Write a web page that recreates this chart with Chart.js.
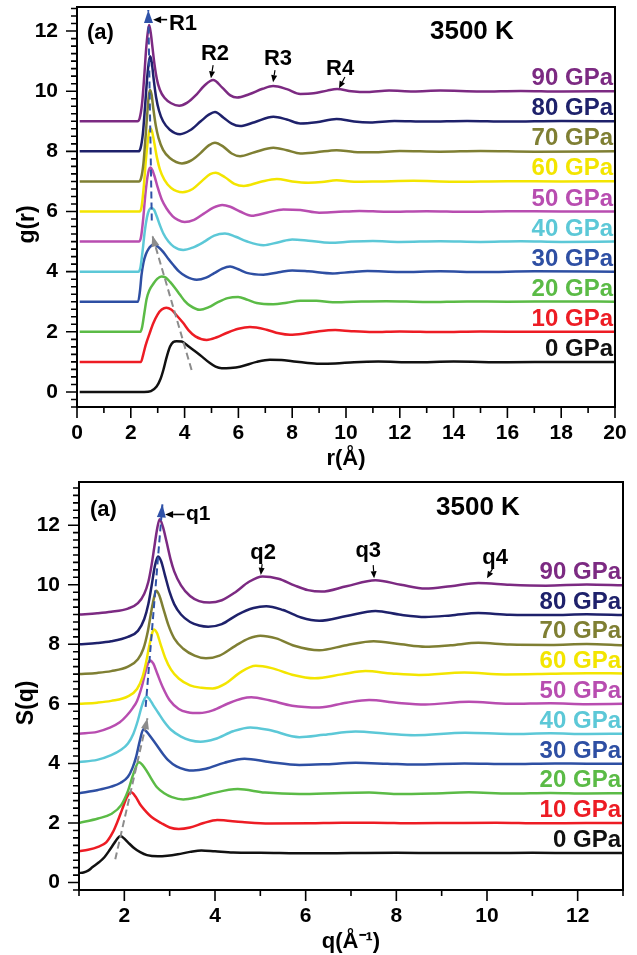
<!DOCTYPE html>
<html>
<head>
<meta charset="utf-8">
<script src="https://cdn.jsdelivr.net/npm/chart.js@4.4.1/dist/chart.umd.min.js"></script>
<style>
  body { margin: 0; background: #fff; }
  #wrap { position: relative; width: 637px; height: 955px; }
  canvas { position: absolute; left: 0; }
  #grChart { top: 0; }
  #sqChart { top: 475px; }
</style>
</head>
<body>
<div id="wrap">
  <canvas id="grChart" width="637" height="475"></canvas>
  <canvas id="sqChart" width="637" height="480"></canvas>
</div>
<script>
const pressures = ['0 GPa', '10 GPa', '20 GPa', '30 GPa', '40 GPa', '50 GPa', '60 GPa', '70 GPa', '80 GPa', '90 GPa'];
const lineColors = ['#111111', '#ed1c24', '#5bbb46', '#2e4fa3', '#5cc8d7', '#b84db0', '#f3e500', '#7f7f33', '#1e216b', '#7c2a82'];

// g(r) at 3500 K, each pressure shifted up by 1: [r (Å), g]
const gr0 = [[0.1, 0.0], [2.5, 0.0], [2.75, 0.03], [2.96, 0.18], [3.1, 0.42], [3.21, 0.73], [3.33, 1.15], [3.46, 1.51], [3.58, 1.66], [3.7, 1.69], [3.89, 1.68], [4.0, 1.62], [4.14, 1.52], [4.35, 1.38], [4.57, 1.23], [4.94, 0.96], [5.15, 0.84], [5.38, 0.79], [5.7, 0.8], [6.06, 0.84], [6.68, 1.0], [7.17, 1.07], [7.6, 1.06], [8.0, 1.02], [8.5, 0.97], [9.0, 0.94], [9.6, 0.95], [10.3, 0.99], [11.2, 1.01], [12.5, 0.99], [14, 1.01], [16, 0.99], [18, 1.0], [20, 1.0]];
const gr10 = [[0.1, 1.0], [2.38, 1.0], [2.45, 1.2], [2.55, 1.55], [2.7, 1.95], [2.84, 2.29], [3.0, 2.58], [3.15, 2.74], [3.32, 2.8], [3.5, 2.74], [3.7, 2.55], [3.95, 2.29], [4.15, 2.05], [4.4, 1.85], [4.82, 1.73], [5.2, 1.82], [5.56, 1.96], [6.0, 2.1], [6.43, 2.16], [7.05, 2.07], [7.5, 1.95], [7.92, 1.9], [8.5, 1.95], [9.0, 2.02], [9.6, 2.06], [10.2, 2.02], [11, 1.99], [12, 2.01], [13.5, 1.99], [15, 2.01], [17, 2.0], [20, 2.0]];
const gr20 = [[0.1, 2.0], [2.36, 2.0], [2.42, 2.15], [2.5, 2.6], [2.59, 3.1], [2.7, 3.4], [2.84, 3.6], [2.98, 3.76], [3.14, 3.84], [3.3, 3.8], [3.46, 3.66], [3.65, 3.45], [3.83, 3.23], [4.0, 3.03], [4.2, 2.87], [4.57, 2.73], [4.9, 2.82], [5.19, 2.96], [5.6, 3.12], [5.99, 3.16], [6.35, 3.06], [6.68, 2.96], [7.3, 2.92], [7.8, 2.97], [8.3, 3.03], [8.9, 3.03], [9.5, 2.98], [10.3, 3.0], [11.5, 3.02], [13, 2.99], [14.5, 3.01], [16, 3.0], [18, 3.01], [20, 3.0]];
const gr30 = [[0.1, 3.0], [2.27, 3.0], [2.34, 3.35], [2.4, 3.9], [2.47, 4.3], [2.56, 4.58], [2.66, 4.76], [2.76, 4.86], [2.86, 4.9], [3.0, 4.84], [3.21, 4.65], [3.4, 4.42], [3.58, 4.22], [3.8, 4.0], [4.05, 3.84], [4.45, 3.73], [4.8, 3.8], [5.1, 3.95], [5.4, 4.1], [5.69, 4.17], [6.0, 4.08], [6.31, 3.96], [6.93, 3.9], [7.5, 3.98], [8.0, 4.04], [8.6, 4.01], [9.5, 3.94], [10.2, 3.99], [10.8, 4.02], [12, 3.99], [13.5, 4.01], [15, 3.99], [17, 4.01], [20, 4.0]];
const gr40 = [[0.1, 4.0], [2.28, 4.0], [2.36, 4.15], [2.44, 4.7], [2.52, 5.35], [2.6, 5.8], [2.68, 6.05], [2.77, 6.12], [2.87, 6.05], [2.96, 5.85], [3.08, 5.55], [3.21, 5.27], [3.4, 5.0], [3.6, 4.83], [3.95, 4.72], [4.3, 4.8], [4.7, 4.98], [5.1, 5.2], [5.5, 5.27], [5.9, 5.16], [6.3, 5.01], [6.93, 4.88], [7.5, 4.98], [8.0, 5.07], [8.6, 5.03], [9.4, 4.96], [10.2, 5.0], [11, 5.02], [12, 4.99], [13.5, 5.01], [15, 4.99], [16.5, 5.01], [18, 4.99], [20, 5.0]];
const gr50 = [[0.1, 5.0], [2.3, 5.0], [2.38, 5.15], [2.46, 5.75], [2.54, 6.55], [2.62, 7.15], [2.68, 7.4], [2.73, 7.46], [2.8, 7.38], [2.9, 7.12], [3.0, 6.8], [3.15, 6.4], [3.33, 6.1], [3.55, 5.85], [3.75, 5.72], [4.0, 5.65], [4.35, 5.72], [4.7, 5.92], [5.07, 6.13], [5.4, 6.22], [5.7, 6.16], [6.06, 6.0], [6.49, 5.86], [7.05, 5.96], [7.67, 6.07], [8.3, 6.05], [9.0, 5.96], [9.6, 5.98], [10.5, 6.02], [11.5, 5.99], [13, 6.01], [14.5, 5.99], [16, 6.01], [18, 6.0], [20, 6.0]];
const gr60 = [[0.1, 6.0], [2.33, 6.0], [2.4, 6.15], [2.48, 6.8], [2.56, 7.7], [2.64, 8.4], [2.69, 8.68], [2.74, 8.76], [2.8, 8.62], [2.88, 8.25], [2.97, 7.8], [3.08, 7.4], [3.25, 7.05], [3.5, 6.78], [3.93, 6.64], [4.3, 6.75], [4.65, 7.02], [4.95, 7.24], [5.15, 7.29], [5.5, 7.14], [5.85, 6.92], [6.2, 6.85], [6.8, 6.98], [7.43, 7.08], [8.0, 7.0], [8.6, 6.96], [9.1, 6.98], [9.65, 7.04], [10.3, 6.99], [11.2, 7.0], [12.5, 7.02], [14, 6.99], [16, 7.01], [18, 7.0], [20, 7.01]];
const gr70 = [[0.1, 7.0], [2.3, 7.0], [2.38, 7.1], [2.47, 7.6], [2.55, 8.5], [2.62, 9.35], [2.67, 9.85], [2.71, 10.04], [2.77, 9.9], [2.84, 9.4], [2.93, 8.85], [3.03, 8.45], [3.2, 8.05], [3.45, 7.78], [3.9, 7.6], [4.25, 7.7], [4.6, 7.95], [4.9, 8.2], [5.13, 8.29], [5.45, 8.15], [5.75, 7.93], [6.06, 7.84], [6.6, 7.97], [7.3, 8.12], [7.8, 8.04], [8.3, 7.93], [8.9, 7.97], [9.65, 8.04], [10.3, 7.98], [11, 7.97], [12, 8.01], [13.5, 7.99], [15, 8.01], [17, 7.99], [20, 8.0]];
const gr80 = [[0.1, 8.0], [2.28, 8.0], [2.36, 8.1], [2.45, 8.6], [2.53, 9.5], [2.6, 10.35], [2.66, 10.9], [2.72, 11.16], [2.78, 10.95], [2.85, 10.4], [2.94, 9.8], [3.05, 9.35], [3.2, 9.0], [3.45, 8.72], [3.83, 8.57], [4.2, 8.7], [4.6, 9.0], [4.9, 9.22], [5.13, 9.31], [5.45, 9.12], [5.75, 8.92], [6.06, 8.84], [6.6, 8.97], [7.3, 9.15], [7.8, 9.06], [8.3, 8.93], [8.9, 8.97], [9.65, 9.08], [10.3, 8.99], [10.9, 8.96], [11.8, 9.01], [13, 8.99], [14.5, 9.01], [16, 8.99], [18, 9.01], [20, 9.0]];
const gr90 = [[0.1, 9.0], [2.25, 9.0], [2.33, 9.1], [2.42, 9.6], [2.5, 10.5], [2.57, 11.4], [2.63, 11.95], [2.68, 12.2], [2.74, 11.95], [2.8, 11.5], [2.88, 10.9], [2.97, 10.4], [3.08, 10.05], [3.25, 9.78], [3.5, 9.6], [3.8, 9.52], [4.1, 9.62], [4.4, 9.85], [4.75, 10.2], [5.06, 10.37], [5.4, 10.12], [5.7, 9.86], [5.95, 9.79], [6.4, 9.9], [6.9, 10.08], [7.29, 10.17], [7.8, 10.07], [8.3, 9.91], [8.8, 9.93], [9.3, 10.02], [9.67, 10.07], [10.2, 10.0], [10.8, 9.97], [11.6, 10.02], [12.5, 9.99], [13.5, 10.02], [15, 9.99], [16.5, 10.01], [18, 9.99], [20, 10.0]];

// S(q) at 3500 K, same offsets: [q (1/Å), S]
const sq0 = [[1.0, 0.32], [1.1, 0.34], [1.2, 0.4], [1.3, 0.52], [1.44, 0.68], [1.56, 0.85], [1.68, 1.1], [1.78, 1.33], [1.86, 1.5], [1.92, 1.56], [1.98, 1.5], [2.08, 1.35], [2.22, 1.15], [2.35, 1.02], [2.5, 0.92], [2.74, 0.88], [2.95, 0.9], [3.18, 0.95], [3.45, 1.03], [3.7, 1.08], [4.0, 1.05], [4.4, 1.01], [5.0, 1.0], [6.1, 0.98], [7.0, 0.99], [8.0, 1.0], [9.0, 0.99], [10, 0.99], [11, 1.0], [12, 0.99], [13, 0.99]];
const sq10 = [[1.0, 1.05], [1.2, 1.1], [1.42, 1.2], [1.6, 1.35], [1.75, 1.7], [1.85, 2.05], [1.95, 2.45], [2.06, 2.88], [2.15, 3.03], [2.25, 2.88], [2.35, 2.62], [2.44, 2.45], [2.6, 2.2], [2.81, 2.0], [3.0, 1.85], [3.2, 1.8], [3.45, 1.85], [3.75, 2.0], [4.05, 2.1], [4.6, 2.03], [5.2, 1.98], [6.1, 1.99], [6.8, 2.01], [7.5, 2.01], [8.4, 1.99], [9.2, 2.0], [10.2, 2.01], [11.2, 1.99], [12.2, 2.0], [13, 2.0]];
const sq20 = [[1.0, 2.0], [1.42, 2.15], [1.71, 2.3], [1.93, 2.6], [2.08, 3.08], [2.2, 3.65], [2.32, 4.04], [2.45, 3.85], [2.59, 3.5], [2.72, 3.2], [2.88, 3.0], [3.05, 2.87], [3.3, 2.79], [3.6, 2.86], [3.9, 2.98], [4.5, 3.14], [5.1, 3.02], [5.86, 2.97], [6.8, 3.01], [7.4, 3.02], [8.0, 2.97], [8.8, 2.99], [9.6, 3.03], [10.5, 2.99], [11.4, 3.01], [12.2, 2.99], [13, 3.0]];
const sq30 = [[1.0, 3.0], [1.42, 3.11], [1.71, 3.22], [1.92, 3.35], [2.08, 3.55], [2.18, 3.85], [2.26, 4.22], [2.34, 4.75], [2.42, 5.15], [2.5, 5.05], [2.6, 4.85], [2.72, 4.6], [2.86, 4.3], [2.96, 4.12], [3.15, 3.9], [3.35, 3.79], [3.52, 3.76], [3.8, 3.82], [4.2, 4.02], [4.65, 4.16], [5.2, 4.05], [5.86, 3.95], [6.4, 3.97], [7.1, 4.02], [7.8, 3.99], [8.4, 3.96], [9.5, 4.0], [10.5, 3.98], [11.5, 4.0], [12.2, 3.99], [13, 3.99]];
const sq40 = [[1.0, 4.05], [1.4, 4.12], [1.71, 4.28], [1.92, 4.45], [2.08, 4.67], [2.2, 5.0], [2.3, 5.45], [2.38, 5.9], [2.44, 6.15], [2.49, 6.25], [2.56, 6.15], [2.64, 5.95], [2.74, 5.72], [2.88, 5.4], [3.03, 5.13], [3.25, 4.9], [3.45, 4.78], [3.68, 4.73], [4.0, 4.82], [4.4, 5.08], [4.78, 5.21], [5.2, 5.12], [5.86, 4.88], [6.4, 4.96], [7.1, 5.07], [7.8, 5.0], [8.4, 4.95], [9.52, 5.03], [10.5, 4.99], [11.4, 5.01], [12.2, 4.99], [13, 5.0]];
const sq50 = [[1.0, 5.0], [1.4, 5.06], [1.68, 5.2], [1.9, 5.38], [2.05, 5.6], [2.18, 5.85], [2.28, 6.1], [2.38, 6.55], [2.47, 7.1], [2.53, 7.38], [2.57, 7.46], [2.64, 7.35], [2.73, 7.0], [2.85, 6.55], [3.0, 6.12], [3.2, 5.83], [3.4, 5.72], [3.66, 5.69], [3.95, 5.78], [4.3, 6.02], [4.6, 6.18], [4.8, 6.22], [5.2, 6.12], [5.7, 5.94], [6.3, 5.88], [6.9, 6.04], [7.4, 6.13], [8.0, 6.04], [8.64, 5.98], [9.6, 6.07], [10.5, 6.0], [11.4, 6.02], [12.2, 5.99], [13, 6.0]];
const sq60 = [[1.0, 6.0], [1.4, 6.04], [1.71, 6.1], [2.08, 6.25], [2.28, 6.5], [2.4, 6.9], [2.48, 7.4], [2.55, 7.95], [2.61, 8.35], [2.65, 8.5], [2.72, 8.38], [2.8, 8.0], [2.9, 7.55], [3.03, 7.15], [3.2, 6.85], [3.45, 6.62], [3.7, 6.54], [3.95, 6.52], [4.25, 6.7], [4.55, 7.05], [4.9, 7.28], [5.25, 7.2], [5.7, 6.98], [6.2, 6.86], [6.8, 6.99], [7.32, 7.1], [7.9, 7.02], [8.5, 6.97], [9.5, 7.05], [10.4, 6.99], [11.4, 7.01], [12.2, 7.03], [13, 7.02]];
const sq70 = [[1.0, 7.0], [1.4, 7.04], [1.71, 7.1], [2.08, 7.25], [2.3, 7.5], [2.42, 7.85], [2.52, 8.45], [2.6, 9.15], [2.66, 9.6], [2.7, 9.8], [2.77, 9.65], [2.86, 9.2], [2.97, 8.65], [3.1, 8.2], [3.3, 7.85], [3.55, 7.62], [3.8, 7.53], [4.1, 7.62], [4.45, 7.95], [4.75, 8.2], [5.0, 8.29], [5.35, 8.2], [5.75, 7.95], [6.3, 7.8], [6.9, 7.97], [7.5, 8.1], [8.1, 8.0], [8.64, 7.92], [9.2, 7.97], [9.81, 8.05], [10.5, 7.99], [11.4, 7.98], [12.2, 8.01], [13, 7.97]];
const sq80 = [[1.0, 8.0], [1.4, 8.04], [1.71, 8.1], [2.08, 8.25], [2.3, 8.45], [2.44, 8.85], [2.53, 9.35], [2.6, 9.95], [2.67, 10.6], [2.74, 10.95], [2.81, 10.8], [2.9, 10.3], [3.0, 9.75], [3.1, 9.35], [3.25, 9.0], [3.45, 8.75], [3.65, 8.63], [3.85, 8.59], [4.15, 8.68], [4.5, 9.0], [4.85, 9.22], [5.13, 9.28], [5.5, 9.15], [5.9, 8.9], [6.3, 8.79], [6.9, 8.95], [7.54, 9.12], [8.1, 8.99], [8.64, 8.92], [9.2, 8.97], [9.81, 9.05], [10.5, 8.99], [11.4, 8.98], [12.2, 9.01], [13, 8.98]];
const sq90 = [[1.0, 9.0], [1.4, 9.04], [1.71, 9.09], [2.08, 9.2], [2.3, 9.38], [2.44, 9.7], [2.53, 10.1], [2.6, 10.65], [2.66, 11.25], [2.72, 11.85], [2.78, 12.2], [2.85, 11.95], [2.93, 11.45], [3.02, 10.85], [3.1, 10.45], [3.25, 9.98], [3.45, 9.62], [3.65, 9.45], [3.88, 9.4], [4.15, 9.48], [4.45, 9.75], [4.75, 10.1], [5.05, 10.28], [5.4, 10.2], [5.75, 9.98], [6.05, 9.82], [6.35, 9.77], [6.9, 9.95], [7.54, 10.15], [8.1, 10.0], [8.64, 9.87], [9.2, 9.95], [9.81, 10.06], [10.5, 10.0], [11.3, 9.97], [12.2, 10.01], [13, 9.98]];

// dashed guides following the first peak
const grHighGuide = [[2.78, 5.7], [2.65, 12.7]];
const grLowGuide = [[4.26, 0.73], [2.8, 5.2]];
const sqHighGuide = [[2.47, 5.9], [2.84, 12.7]];
const sqLowGuide = [[1.8, 0.78], [2.51, 5.52]];

const FONT = "'Liberation Sans', Arial, Helvetica, sans-serif";
Chart.defaults.font.family = FONT;
Chart.defaults.color = '#000';

function arrow(ctx, x0, y0, x1, y1, len, half, color, lineWidth) {
  const ang = Math.atan2(y1 - y0, x1 - x0);
  const bx = x1 - len * Math.cos(ang), by = y1 - len * Math.sin(ang);
  if (lineWidth) {
    ctx.strokeStyle = color;
    ctx.lineWidth = lineWidth;
    ctx.setLineDash([]);
    ctx.beginPath();
    ctx.moveTo(x0, y0);
    ctx.lineTo(bx, by);
    ctx.stroke();
  }
  ctx.fillStyle = color;
  ctx.beginPath();
  ctx.moveTo(x1, y1);
  ctx.lineTo(bx + half * Math.sin(ang), by - half * Math.cos(ang));
  ctx.lineTo(bx - half * Math.sin(ang), by + half * Math.cos(ang));
  ctx.closePath();
  ctx.fill();
}

// frame, outward ticks, labels and arrows drawn on top of the curves
function makeDecor(cfg) {
  return {
    id: 'decor',
    afterDatasetsDraw(chart) {
      const {ctx, chartArea: a, scales: {x, y}} = chart;
      const px = v => x.getPixelForValue(v);
      const py = v => y.getPixelForValue(v);
      ctx.save();
      ctx.setLineDash([]);
      ctx.strokeStyle = '#000';
      ctx.lineWidth = 2;
      ctx.strokeRect(a.left, a.top, a.right - a.left, a.bottom - a.top);

      ctx.lineWidth = 1.6;
      ctx.beginPath();
      for (let v = Math.ceil(x.min); v <= x.max + 1e-9; v++) {
        const len = v % 2 === 0 ? 11 : 6;
        ctx.moveTo(px(v), a.bottom);
        ctx.lineTo(px(v), a.bottom + len);
      }
      for (let k = Math.ceil(y.min * 4); k <= Math.floor(y.max * 4); k++) {
        const len = k % 8 === 0 ? 11 : 6;
        ctx.moveTo(a.left, py(k / 4));
        ctx.lineTo(a.left - len, py(k / 4));
      }
      ctx.stroke();

      cfg.guides.forEach(g => {
        const p0 = g.pts[g.pts.length - 2], p1 = g.pts[g.pts.length - 1];
        arrow(ctx, px(p0[0]), py(p0[1]), px(p1[0]), py(p1[1]), g.len, g.half, g.color, 0);
      });

      cfg.pointers.forEach(p => {
        arrow(ctx, px(p.from[0]), py(p.from[1]), px(p.to[0]), py(p.to[1]), p.len, p.half, '#000', p.width);
      });

      ctx.textBaseline = 'middle';
      cfg.notes.forEach(n => {
        ctx.font = `bold ${n.size}px ${FONT}`;
        ctx.textAlign = n.align || 'center';
        ctx.fillStyle = '#000';
        ctx.fillText(n.text, px(n.x), py(n.y));
      });

      ctx.font = `bold 24px ${FONT}`;
      ctx.textAlign = 'right';
      pressures.forEach((label, i) => {
        ctx.fillStyle = lineColors[i];
        ctx.fillText(label, a.right - 2, py(i + 1.42));
      });

      ctx.save();
      ctx.translate(cfg.yTitleX, py(cfg.yTitleAt));
      ctx.rotate(-Math.PI / 2);
      ctx.font = `bold 23px ${FONT}`;
      ctx.textAlign = 'center';
      ctx.fillStyle = '#000';
      ctx.fillText(cfg.yTitle, 0, 0);
      ctx.restore();

      ctx.restore();
    }
  };
}

function buildDatasets(series, highGuide, lowGuide) {
  const sets = series.map((pts, i) => ({
    label: pressures[i],
    data: pts,
    borderColor: lineColors[i],
    borderWidth: 2.5,
    pointRadius: 0,
    fill: false,
    cubicInterpolationMode: 'monotone',
    order: 10 - i
  }));
  sets.push({ data: highGuide, borderColor: '#2f52a8', borderWidth: 2, borderDash: [7, 4], pointRadius: 0, order: 0 });
  sets.push({ data: lowGuide, borderColor: '#8c8c8c', borderWidth: 2, borderDash: [7, 4], pointRadius: 0, order: 0 });
  return sets;
}

const evenOnly = v => (Math.abs(v % 2) < 1e-9 ? v : '');

function axisOptions(cfg) {
  return {
    x: {
      type: 'linear', min: cfg.xMin, max: cfg.xMax,
      grid: { display: false, drawTicks: false },
      border: { display: false },
      ticks: { stepSize: 1, autoSkip: false, maxRotation: 0, includeBounds: false, padding: 14, callback: evenOnly, font: { size: 21, weight: 'bold' }, color: '#000' },
      title: { display: true, text: cfg.xTitle, font: { size: 22, weight: 'bold' }, color: '#000', padding: { top: 0, bottom: cfg.xTitlePad } },
      afterFit: s => { s.height = cfg.xAxisHeight; s.paddingLeft = 0; s.paddingRight = 0; }
    },
    y: {
      type: 'linear', min: cfg.yMin, max: cfg.yMax,
      grid: { display: false, drawTicks: false },
      border: { display: false },
      ticks: { stepSize: 2, includeBounds: false, padding: 19, callback: evenOnly, font: { size: 21, weight: 'bold' }, color: '#000' },
      afterFit: s => { s.width = cfg.yAxisWidth; s.paddingTop = 0; s.paddingBottom = 0; }
    }
  };
}

new Chart(document.getElementById('grChart'), {
  type: 'line',
  data: { datasets: buildDatasets([gr0, gr10, gr20, gr30, gr40, gr50, gr60, gr70, gr80, gr90], grHighGuide, grLowGuide) },
  options: {
    responsive: false, animation: false, devicePixelRatio: 1, events: [],
    layout: { padding: { top: 7, right: 22, left: 0, bottom: 0 } },
    plugins: { legend: { display: false }, tooltip: { enabled: false } },
    scales: axisOptions({ xMin: 0, xMax: 20, yMin: -0.5, yMax: 12.8, xTitle: 'r(Å)', xTitlePad: 3, xAxisHeight: 68, yAxisWidth: 77 })
  },
  plugins: [makeDecor({
    yTitle: 'g(r)', yTitleX: 28, yTitleAt: 5.57,
    guides: [
      { pts: grHighGuide, color: '#2f52a8', len: 13, half: 4.5 },
      { pts: grLowGuide, color: '#8c8c8c', len: 11, half: 4 }
    ],
    pointers: [
      { from: [3.35, 12.38], to: [2.83, 12.38], len: 8, half: 3.5, width: 1.6 },
      { from: [5.06, 10.87], to: [4.98, 10.43], len: 7, half: 3, width: 1.2 },
      { from: [7.36, 10.7], to: [7.29, 10.3], len: 7, half: 3, width: 1.2 },
      { from: [9.96, 10.47], to: [9.74, 10.1], len: 7, half: 3, width: 1.2 }
    ],
    notes: [
      { text: '(a)', x: 0.37, y: 11.93, size: 22, align: 'left' },
      { text: '3500 K', x: 14.68, y: 11.97, size: 26 },
      { text: 'R1', x: 3.94, y: 12.23, size: 22 },
      { text: 'R2', x: 5.13, y: 11.23, size: 22 },
      { text: 'R3', x: 7.47, y: 11.07, size: 22 },
      { text: 'R4', x: 9.78, y: 10.73, size: 22 }
    ]
  })]
});

new Chart(document.getElementById('sqChart'), {
  type: 'line',
  data: { datasets: buildDatasets([sq0, sq10, sq20, sq30, sq40, sq50, sq60, sq70, sq80, sq90], sqHighGuide, sqLowGuide) },
  options: {
    responsive: false, animation: false, devicePixelRatio: 1, events: [],
    layout: { padding: { top: 7, right: 14, left: 0, bottom: 0 } },
    plugins: { legend: { display: false }, tooltip: { enabled: false } },
    scales: axisOptions({ xMin: 1, xMax: 13, yMin: -0.25, yMax: 13.45, xTitle: 'q(Å⁻¹)', xTitlePad: 0, xAxisHeight: 65, yAxisWidth: 79 })
  },
  plugins: [makeDecor({
    yTitle: 'S(q)', yTitleX: 27, yTitleAt: 6.03,
    guides: [
      { pts: sqHighGuide, color: '#2f52a8', len: 13, half: 4.5 },
      { pts: sqLowGuide, color: '#8c8c8c', len: 11, half: 4 }
    ],
    pointers: [
      { from: [3.33, 12.36], to: [2.9, 12.36], len: 8, half: 3.5, width: 1.6 },
      { from: [5.04, 10.69], to: [5.01, 10.33], len: 7, half: 3, width: 1.2 },
      { from: [7.49, 10.66], to: [7.51, 10.22], len: 7, half: 3, width: 1.2 },
      { from: [10.13, 10.56], to: [10.0, 10.22], len: 7, half: 3, width: 1.2 }
    ],
    notes: [
      { text: '(a)', x: 1.24, y: 12.5, size: 22, align: 'left' },
      { text: '3500 K', x: 9.8, y: 12.57, size: 26 },
      { text: 'q1', x: 3.63, y: 12.37, size: 21 },
      { text: 'q2', x: 5.06, y: 11.06, size: 22 },
      { text: 'q3', x: 7.38, y: 11.13, size: 22 },
      { text: 'q4', x: 10.18, y: 10.9, size: 22 }
    ]
  })]
});
</script>
</body>
</html>
